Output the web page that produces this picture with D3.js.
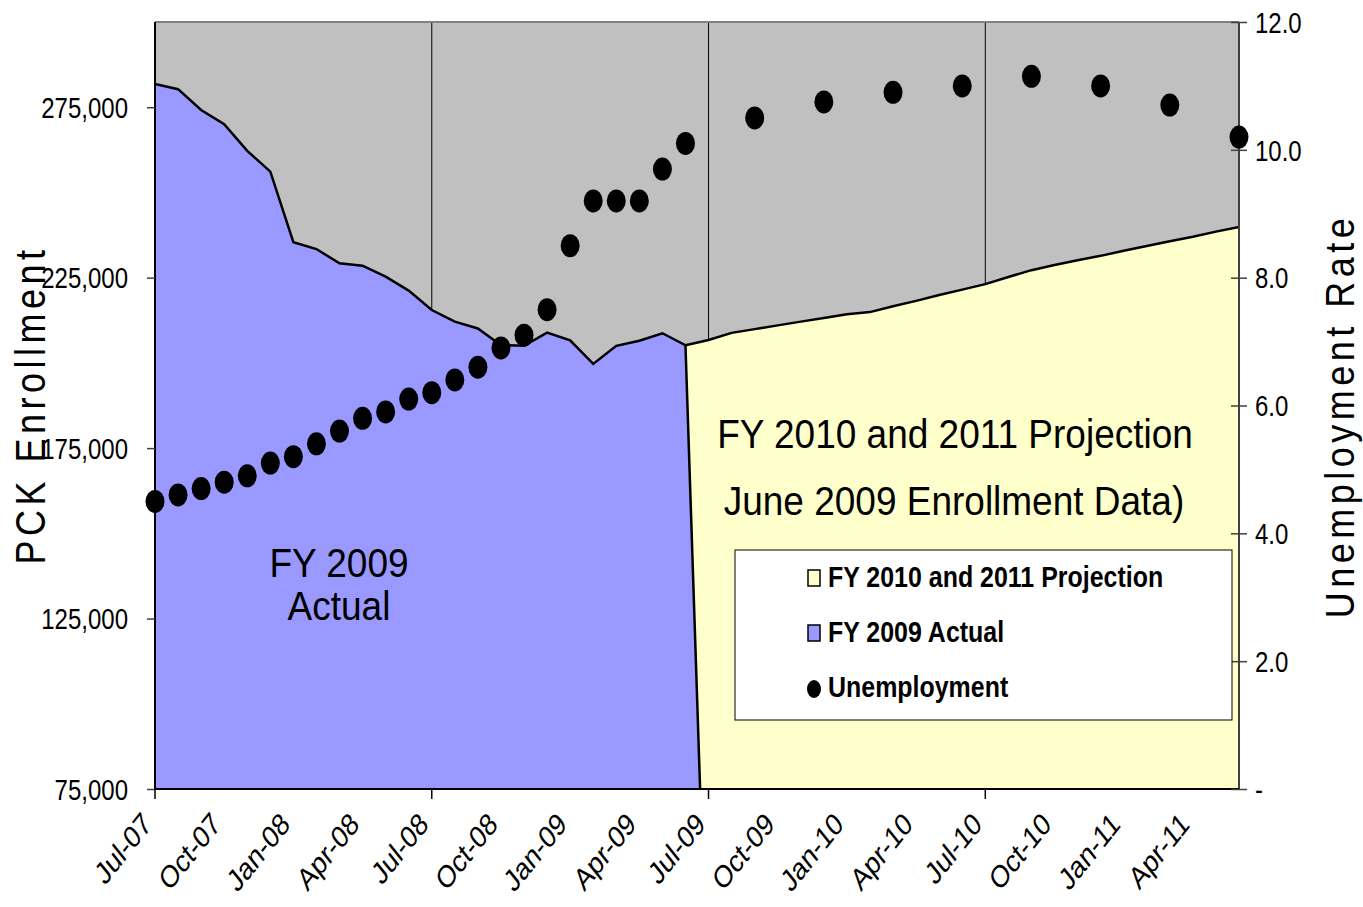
<!DOCTYPE html>
<html>
<head>
<meta charset="utf-8">
<script src="https://cdn.jsdelivr.net/npm/d3@7"></script>
<style>
  body { margin: 0; background: #fff; }
  text { font-family: "Liberation Sans", Arial, sans-serif; fill: #000; }
</style>
</head>
<body>
<div id="chart"></div>
<script>
// categories, one per month
let months = ["Jul-07","Aug-07","Sep-07","Oct-07","Nov-07","Dec-07","Jan-08","Feb-08","Mar-08","Apr-08","May-08","Jun-08",
              "Jul-08","Aug-08","Sep-08","Oct-08","Nov-08","Dec-08","Jan-09","Feb-09","Mar-09","Apr-09","May-09","Jun-09",
              "Jul-09","Aug-09","Sep-09","Oct-09","Nov-09","Dec-09","Jan-10","Feb-10","Mar-10","Apr-10","May-10","Jun-10",
              "Jul-10","Aug-10","Sep-10","Oct-10","Nov-10","Dec-10","Jan-11","Feb-11","Mar-11","Apr-11","May-11","Jun-11"];

let labelMonths = ["Jul-07","Oct-07","Jan-08","Apr-08","Jul-08","Oct-08","Jan-09","Apr-09",
                   "Jul-09","Oct-09","Jan-10","Apr-10","Jul-10","Oct-10","Jan-11","Apr-11"];
let tickMonths = ["Jul-07","Jul-08","Jul-09","Jul-10"];
let gridMonths = ["Jul-08","Jul-09","Jul-10"];

// FY 2009 actual enrollment, from Jul-07 (Jul-09 is blank, plotted as 0 by the original)
let actualEnroll = [281800, 280300, 274200, 270000, 262200, 256100, 235400, 233400, 229200, 228500, 225300, 221200,
                    215500, 212100, 210100, 205200, 205000, 208900, 206600, 199700, 205000, 206500, 208700, 205200, 0];

// FY 2010 and 2011 projection, from Jun-09
let projStart = "Jun-09";
let projEnroll = [205200, 206700, 208800, 209900, 211000, 212100, 213200, 214300, 214900, 216600, 218200, 219900,
                  221500, 223100, 225200, 227200, 228700, 230100, 231400, 232900, 234300, 235700, 237000, 238500, 239900];

// unemployment rate
let unempMonths = ["Jul-07","Aug-07","Sep-07","Oct-07","Nov-07","Dec-07","Jan-08","Feb-08","Mar-08","Apr-08","May-08","Jun-08",
                   "Jul-08","Aug-08","Sep-08","Oct-08","Nov-08","Dec-08","Jan-09","Feb-09","Mar-09","Apr-09","May-09","Jun-09",
                   "Sep-09","Dec-09","Mar-10","Jun-10","Sep-10","Dec-10","Mar-11","Jun-11"];
let unempRate = [4.5, 4.6, 4.7, 4.8, 4.9, 5.1, 5.2, 5.4, 5.6, 5.8, 5.9, 6.1,
                 6.2, 6.4, 6.6, 6.9, 7.1, 7.5, 8.5, 9.2, 9.2, 9.2, 9.7, 10.1,
                 10.5, 10.75, 10.9, 11.0, 11.15, 11.0, 10.7, 10.2];

let leftTicks = [75000, 125000, 175000, 225000, 275000];
let rightTicks = [0, 2, 4, 6, 8, 10, 12];

let width = 1363, height = 907;
let pLeft = 155, pRight = 1239, pTop = 22, pBottom = 789;

let svg = d3.select("#chart").append("svg")
    .attr("width", width)
    .attr("height", height);

let x = d3.scalePoint().domain(months).range([pLeft, pRight]);
let yL = d3.scaleLinear().domain([75000, 300000]).range([pBottom, pTop]);
let yR = d3.scaleLinear().domain([0, 12]).range([pBottom, pTop]);

svg.append("defs").append("clipPath")
    .attr("id", "plot")
    .append("rect")
    .attr("x", pLeft).attr("y", pTop)
    .attr("width", pRight - pLeft).attr("height", pBottom - pTop);

// plot background
svg.append("rect")
    .attr("x", pLeft).attr("y", pTop)
    .attr("width", pRight - pLeft).attr("height", pBottom - pTop)
    .attr("fill", "#c0c0c0");

svg.append("g")
    .selectAll("line")
    .data(gridMonths)
    .enter()
    .append("line")
    .attr("x1", d => x(d)).attr("x2", d => x(d))
    .attr("y1", pTop).attr("y2", pBottom)
    .attr("stroke", "#000")
    .attr("stroke-width", 1);

let actual = actualEnroll.map((v, i) => ({m: months[i], v: v}));
let s0 = months.indexOf(projStart);
let proj = projEnroll.map((v, i) => ({m: months[s0 + i], v: v}));

let area = d3.area()
    .x(d => x(d.m))
    .y0(yL(75000))
    .y1(d => yL(d.v));
let line = d3.line()
    .x(d => x(d.m))
    .y(d => yL(d.v));

let plot = svg.append("g").attr("clip-path", "url(#plot)");

plot.append("path")
    .attr("d", area(proj))
    .attr("fill", "#ffffcc");
plot.append("path")
    .attr("d", line(proj))
    .attr("fill", "none")
    .attr("stroke", "#000")
    .attr("stroke-width", 2.5);

plot.append("path")
    .attr("d", area(actual))
    .attr("fill", "#9999ff");
plot.append("path")
    .attr("d", line(actual))
    .attr("fill", "none")
    .attr("stroke", "#000")
    .attr("stroke-width", 2.5);

// plot frame
svg.append("line")
    .attr("x1", pLeft).attr("x2", pRight).attr("y1", pTop).attr("y2", pTop)
    .attr("stroke", "#808080").attr("stroke-width", 2);
svg.append("line")
    .attr("x1", pRight).attr("x2", pRight).attr("y1", pTop).attr("y2", pBottom)
    .attr("stroke", "#404040").attr("stroke-width", 2);
svg.append("line")
    .attr("x1", pLeft).attr("x2", pLeft).attr("y1", pTop).attr("y2", pBottom)
    .attr("stroke", "#000").attr("stroke-width", 2);
svg.append("line")
    .attr("x1", pLeft).attr("x2", pRight).attr("y1", pBottom).attr("y2", pBottom)
    .attr("stroke", "#000").attr("stroke-width", 2);

// left axis (labels are tall and narrow in the original)
let axL = svg.append("g")
    .attr("transform", `translate(${pLeft},0)`)
    .call(d3.axisLeft(yL).tickValues(leftTicks).tickFormat(d3.format(",")).tickSize(8));
axL.select(".domain").remove();
axL.selectAll("line").attr("stroke", "#404040").attr("stroke-width", 1.5);
axL.selectAll("text")
    .attr("x", 0)
    .attr("dy", "0.34em")
    .attr("transform", "translate(-27,0) scale(0.8,1)")
    .attr("font-size", 30)
    .attr("font-family", "Liberation Sans, Arial, sans-serif");

// right axis, ticks cross the line
let axR = svg.append("g")
    .attr("transform", `translate(${pRight},0)`)
    .call(d3.axisRight(yR).tickValues(rightTicks)
        .tickFormat(d => d === 0 ? "-" : d3.format(".1f")(d)).tickSize(8));
axR.select(".domain").remove();
axR.selectAll("line").attr("x1", -8).attr("stroke", "#404040").attr("stroke-width", 1.5);
axR.selectAll("text")
    .attr("x", 0)
    .attr("dy", "0.34em")
    .attr("transform", "translate(16,0) scale(0.8,1)")
    .attr("font-size", 30)
    .attr("font-family", "Liberation Sans, Arial, sans-serif");

// bottom ticks and labels
svg.append("g")
    .selectAll("line")
    .data(tickMonths)
    .enter()
    .append("line")
    .attr("x1", d => x(d)).attr("x2", d => x(d))
    .attr("y1", pBottom).attr("y2", pBottom + 10)
    .attr("stroke", "#000").attr("stroke-width", 1.5);

svg.append("g")
    .selectAll("text")
    .data(labelMonths)
    .enter()
    .append("text")
    .attr("transform", d => `translate(${x(d) - 2},${pBottom + 37}) scale(1,1.25) rotate(-45)`)
    .attr("text-anchor", "end")
    .attr("font-size", 25)
    .text(d => d);

// unemployment markers
svg.append("g")
    .selectAll("ellipse")
    .data(unempRate)
    .enter()
    .append("ellipse")
    .attr("cx", (d, i) => x(unempMonths[i]))
    .attr("cy", d => yR(d))
    .attr("rx", 9.5)
    .attr("ry", 11.5)
    .attr("fill", "#000");

// axis titles
svg.append("text")
    .attr("transform", "translate(45,405) rotate(-90) scale(1,1.2)")
    .attr("text-anchor", "middle")
    .attr("font-size", 36)
    .attr("letter-spacing", 4.5)
    .text("PCK Enrollment");
svg.append("text")
    .attr("transform", "translate(1354,416) rotate(-90) scale(1,1.15)")
    .attr("text-anchor", "middle")
    .attr("font-size", 36)
    .attr("letter-spacing", 4.5)
    .text("Unemployment Rate");

// annotations
let notes = [
    {t: "FY 2009", x: 339, y: 577},
    {t: "Actual", x: 339, y: 620},
    {t: "FY 2010 and 2011 Projection", x: 955, y: 448},
    {t: "June 2009 Enrollment Data)", x: 954, y: 515}
];
svg.append("g")
    .selectAll("text")
    .data(notes)
    .enter()
    .append("text")
    .attr("transform", d => `translate(${d.x},${d.y}) scale(1,1.12)`)
    .attr("text-anchor", "middle")
    .attr("font-size", 37)
    .text(d => d.t);

// legend
let legend = svg.append("g");
legend.append("rect")
    .attr("x", 735).attr("y", 550)
    .attr("width", 497).attr("height", 170)
    .attr("fill", "#fff")
    .attr("stroke", "#000")
    .attr("stroke-width", 1);

let legendItems = [
    {name: "FY 2010 and 2011 Projection", kind: "box", color: "#ffffcc"},
    {name: "FY 2009 Actual", kind: "box", color: "#9999ff"},
    {name: "Unemployment", kind: "dot", color: "#000"}
];
let li = legend.selectAll("g")
    .data(legendItems)
    .enter()
    .append("g")
    .attr("transform", (d, i) => `translate(0,${578 + i * 55})`);
li.filter(d => d.kind === "box").append("rect")
    .attr("x", 808).attr("y", -8)
    .attr("width", 12).attr("height", 16)
    .attr("fill", d => d.color)
    .attr("stroke", "#000")
    .attr("stroke-width", 1.5);
li.filter(d => d.kind === "dot").append("ellipse")
    .attr("cx", 814).attr("cy", 1)
    .attr("rx", 7).attr("ry", 9)
    .attr("fill", "#000");
li.append("text")
    .attr("transform", "translate(828,9) scale(0.96,1.12)")
    .attr("font-size", 26)
    .attr("font-weight", "bold")
    .text(d => d.name);
</script>
</body>
</html>
